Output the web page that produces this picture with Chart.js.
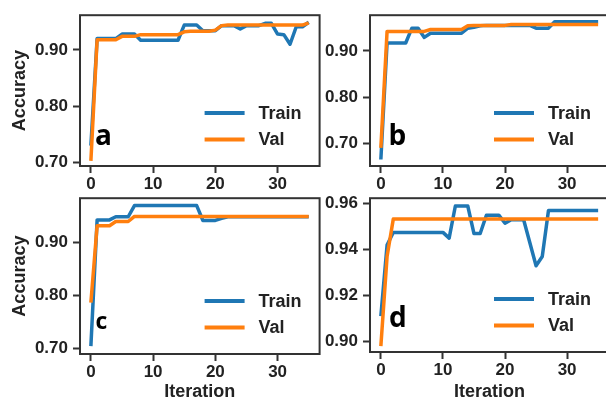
<!DOCTYPE html>
<html>
<head>
<meta charset="utf-8">
<script src="https://cdn.jsdelivr.net/npm/chart.js@4.4.0/dist/chart.umd.min.js"></script>
<style>
  html, body { margin: 0; padding: 0; background: #fff; width: 606px; height: 401px; overflow: hidden; position: relative; }
  canvas { position: absolute; }
</style>
</head>
<body>
<canvas id="pa" width="330" height="190" style="left:0px;top:0px"></canvas>
<canvas id="pb" width="320" height="190" style="left:300px;top:0px"></canvas>
<canvas id="pc" width="330" height="218" style="left:0px;top:183px"></canvas>
<canvas id="pd" width="320" height="218" style="left:300px;top:183px"></canvas>
<script>
// iterations on the x axis
const iterations = [0,1,2,3,4,5,6,7,8,9,10,11,12,13,14,15,16,17,18,19,20,21,22,23,24,25,26,27,28,29,30,31,32,33,34,35];
const xTicks = [0, 10, 20, 30];
const yTicksABC = [0.70, 0.80, 0.90];
const yTicksD = [0.90, 0.92, 0.94, 0.96];
const seriesNames = ["Train", "Val"];

// panel a
const trainA = [0.730,0.920,0.920,0.920,0.920,0.928,0.928,0.928,0.917,0.917,0.917,0.917,0.917,0.917,0.917,0.944,0.944,0.944,0.934,0.934,0.934,0.943,0.943,0.943,0.937,0.943,0.943,0.943,0.947,0.947,0.928,0.927,0.910,0.941,0.941,0.949];
const valA = [0.703,0.918,0.918,0.918,0.918,0.924,0.924,0.924,0.927,0.927,0.927,0.927,0.927,0.927,0.927,0.932,0.933,0.933,0.933,0.933,0.935,0.943,0.944,0.944,0.944,0.944,0.944,0.944,0.944,0.944,0.944,0.944,0.944,0.944,0.944,0.948];
// panel b
const trainB = [0.665,0.917,0.917,0.917,0.917,0.949,0.949,0.929,0.938,0.938,0.938,0.938,0.938,0.938,0.949,0.951,0.954,0.955,0.955,0.955,0.955,0.955,0.955,0.955,0.955,0.949,0.949,0.949,0.963,0.963,0.963,0.963,0.963,0.963,0.963,0.963];
const valB = [0.690,0.942,0.942,0.942,0.942,0.942,0.942,0.942,0.946,0.946,0.946,0.946,0.946,0.946,0.954,0.955,0.955,0.955,0.955,0.955,0.955,0.957,0.957,0.957,0.957,0.957,0.957,0.957,0.957,0.957,0.957,0.957,0.957,0.957,0.957,0.957];
// panel c
const trainC = [0.705,0.943,0.943,0.943,0.949,0.949,0.949,0.970,0.970,0.970,0.970,0.970,0.970,0.970,0.970,0.970,0.970,0.970,0.942,0.942,0.942,0.946,0.949,0.949,0.949,0.949,0.949,0.949,0.949,0.949,0.949,0.949,0.949,0.949,0.949,0.949];
const valC = [0.787,0.932,0.932,0.932,0.940,0.940,0.940,0.9496,0.9496,0.9496,0.9496,0.9496,0.9496,0.9496,0.9496,0.9496,0.9496,0.9496,0.9496,0.9496,0.9496,0.9496,0.9496,0.9496,0.9496,0.9496,0.9496,0.9496,0.9496,0.9496,0.9496,0.9496,0.9496,0.9496,0.9496,0.9496];
// panel d
const trainD = [0.911,0.942,0.9475,0.9475,0.9475,0.9475,0.9475,0.9475,0.9475,0.9475,0.9475,0.945,0.959,0.959,0.959,0.947,0.947,0.955,0.955,0.955,0.9515,0.953,0.953,0.953,0.943,0.933,0.937,0.957,0.957,0.957,0.957,0.957,0.957,0.957,0.957,0.957];
const valD = [0.898,0.937,0.9533,0.9533,0.9533,0.9533,0.9533,0.9533,0.9533,0.9533,0.9533,0.9533,0.9533,0.9533,0.9533,0.9533,0.9533,0.9533,0.9533,0.9533,0.9533,0.9533,0.9533,0.9533,0.9533,0.9533,0.9533,0.9533,0.9533,0.9533,0.9533,0.9533,0.9533,0.9533,0.9533,0.9533];

const BLUE = "#1f77b4";
const ORANGE = "#ff7f0e";
const INK = "#222";
const tickFont = { family: "'Liberation Sans', Arial, sans-serif", size: 17, weight: "bold" };
const titleFont = { family: "'Liberation Sans', Arial, sans-serif", size: 18, weight: "bold", lineHeight: 1 };

// frame, inside legend and panel letter
const panelDecor = {
  id: "panelDecor",
  afterDatasetsDraw(chart, args, opts) {
    const ctx = chart.ctx;
    const ca = chart.chartArea;
    ctx.save();
    ctx.strokeStyle = "#333";
    ctx.lineWidth = 2;
    ctx.strokeRect(ca.left, ca.top, ca.right - ca.left, ca.bottom - ca.top);

    ctx.font = "bold 18px 'Liberation Sans', Arial, sans-serif";
    ctx.textBaseline = "middle";
    chart.data.datasets.forEach((ds, i) => {
      const y = ca.bottom - 53 + i * 26.5;
      ctx.strokeStyle = ds.borderColor;
      ctx.lineWidth = 4;
      ctx.beginPath();
      ctx.moveTo(ca.right - 115, y);
      ctx.lineTo(ca.right - 75, y);
      ctx.stroke();
      ctx.fillStyle = INK;
      ctx.fillText(ds.label, ca.right - 61, y + 1);
    });

    ctx.font = "bold " + opts.size + "px 'Open Sans', sans-serif";
    ctx.textBaseline = "alphabetic";
    ctx.fillStyle = "#000";
    ctx.fillText(opts.letter, ca.left + opts.dx, ca.bottom - opts.dy);
    ctx.restore();
  }
};

function makePanel(id, train, val, yMin, yMax, yTicks, lay) {
  const toPts = (arr) => iterations.map((x, i) => ({ x: x, y: arr[i] }));
  new Chart(document.getElementById(id), {
    type: "line",
    data: {
      datasets: [
        { label: seriesNames[0], data: toPts(train), borderColor: BLUE, borderWidth: 3.5, order: 2 },
        { label: seriesNames[1], data: toPts(val), borderColor: ORANGE, borderWidth: 3.5, order: 1 }
      ]
    },
    options: {
      responsive: false,
      animation: false,
      layout: { padding: { top: lay.padTop, right: lay.padRight, left: 0, bottom: 0 } },
      elements: { point: { radius: 0 }, line: { tension: 0, borderJoinStyle: "round" } },
      plugins: {
        legend: { display: false },
        tooltip: { enabled: false },
        panelDecor: { letter: lay.letter, size: lay.size, dx: lay.dx, dy: lay.dy }
      },
      scales: {
        x: {
          type: "linear",
          min: -1.75,
          max: 36.75,
          afterBuildTicks: (s) => { s.ticks = xTicks.map((v) => ({ value: v })); },
          afterFit: (s) => { s.height = lay.xh; },
          ticks: { font: tickFont, color: INK, padding: 1, maxRotation: 0, autoSkip: false },
          grid: { drawOnChartArea: false, tickLength: 7, tickWidth: 2, tickColor: "#333" },
          border: { display: false },
          title: { display: lay.xTitle, text: "Iteration", font: titleFont, color: INK, padding: { top: 0, bottom: 0 } }
        },
        y: {
          min: yMin,
          max: yMax,
          afterBuildTicks: (s) => { s.ticks = yTicks.map((v) => ({ value: v })); },
          afterFit: (s) => { s.width = lay.yw; },
          ticks: { font: tickFont, color: INK, padding: 5, callback: (v) => v.toFixed(2) },
          grid: { drawOnChartArea: false, tickLength: 7, tickWidth: 2, tickColor: "#333" },
          border: { display: false },
          title: { display: lay.yTitle, text: "Accuracy", font: titleFont, color: INK, padding: { top: 11, bottom: 0 } }
        }
      }
    },
    plugins: [panelDecor]
  });
}

makePanel("pa", trainA, valA, 0.694, 0.9615, yTicksABC,
  { yw: 80, xh: 24, padTop: 10, padRight: 10.4, yTitle: true, xTitle: false, letter: "a", size: 28, dx: 15, dy: 21 });
makePanel("pb", trainB, valB, 0.651, 0.977, yTicksABC,
  { yw: 70, xh: 24, padTop: 10, padRight: 11, yTitle: false, xTitle: false, letter: "b", size: 28, dx: 18.5, dy: 21 });
makePanel("pc", trainC, valC, 0.690, 0.984, yTicksABC,
  { yw: 80, xh: 47, padTop: 12, padRight: 10.4, yTitle: true, xTitle: true, letter: "c", size: 23, dx: 15.5, dy: 25.5 });
makePanel("pd", trainD, valD, 0.8954, 0.9624, yTicksD,
  { yw: 70, xh: 49, padTop: 12, padRight: 11, yTitle: false, xTitle: true, letter: "d", size: 28, dx: 19, dy: 25 });
</script>
</body>
</html>
